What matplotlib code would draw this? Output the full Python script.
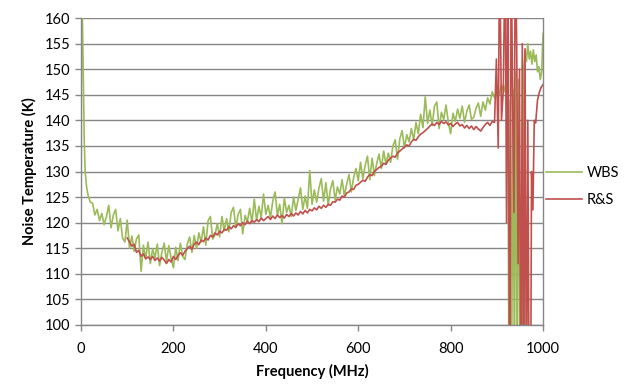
import matplotlib
matplotlib.use('Agg')
import matplotlib.pyplot as plt
import numpy as np

# WBS (green) - steep start near 0 MHz
wbs_head_f = [0, 1, 3, 5, 7, 9, 12]
wbs_head_t = [100, 170, 160, 148, 136, 130, 127]

# WBS main body, 15..895 MHz every 5 MHz
wbs_main_t = [
    125.5, 124.0, 123.8, 121.5, 122.6, 120.4, 121.8, 119.6, 121.2, 123.4,
    119.0, 121.5, 122.6, 118.4, 120.8, 117.0, 116.2, 120.5, 115.0, 117.4,
    114.4, 116.8, 117.6, 110.5, 115.6, 113.0, 116.2, 112.0, 114.9, 113.1,
    115.8, 111.6, 114.2, 116.0, 112.4, 115.5, 113.0, 111.2, 115.2, 112.6,
    116.0, 113.4, 112.8, 115.8, 117.2, 114.2, 117.5, 115.0, 118.0, 116.2,
    119.2, 115.6, 120.4, 121.2, 116.8, 117.6, 119.8, 117.2, 121.2, 118.4,
    120.8, 118.2, 122.0, 123.0, 119.0, 121.6, 122.6, 117.8, 121.4, 120.2,
    122.8, 120.0, 124.6, 120.4, 123.2, 121.0, 125.6, 121.6, 123.4, 121.0,
    124.2, 126.0, 121.4, 123.6, 119.8, 124.8, 122.0, 123.4, 121.2, 125.0,
    122.4, 124.6, 126.8, 122.6, 125.2, 122.8, 130.2, 123.6, 126.4, 124.0,
    126.8, 128.6, 124.2, 127.8, 123.4, 126.6, 128.2, 124.4, 127.0, 125.6,
    128.4, 125.2, 127.6, 129.4, 126.0, 128.8, 130.6, 128.2, 131.8, 128.6,
    131.2, 133.0, 128.4, 132.6, 129.2, 131.6, 133.4, 130.6, 134.0, 131.4,
    133.6, 131.8, 135.0, 136.2, 132.4, 136.4, 138.0, 134.6, 137.2, 135.8,
    138.4, 136.2, 139.6, 137.4, 141.2, 138.6, 144.6, 139.4, 142.0, 139.0,
    142.8, 143.6, 138.4, 141.6, 140.2, 143.0, 139.6, 137.4, 141.4, 139.8,
    142.2, 140.4, 142.8, 139.6, 141.8, 143.0, 140.2, 140.6, 142.4, 143.4,
    140.8, 143.6, 142.0, 144.4, 143.2, 145.6, 144.4,
]

# WBS tail, unstable region above 900 MHz
wbs_tail_f = [900, 905, 910, 915, 920, 924, 926, 929, 932, 935, 938, 941,
              944, 947, 950, 953, 955, 958, 961, 964, 967, 970, 973, 976,
              979, 982, 985, 988, 991, 994, 997, 1000]
wbs_tail_t = [146.0, 145.0, 147.0, 145.5, 147.5, 146.0, 90, 144, 90, 146,
              90, 149.5, 90, 148, 90, 106, 90, 150, 153.5, 151.5, 155, 152,
              153.5, 151, 153.8, 151.5, 152.8, 149.5, 150.5, 148, 149.5, 157]

# R&S (red) main body, 100..895 MHz every 5 MHz
rs_main_t = [
    117.0, 116.2, 115.4, 115.8, 114.2, 114.6, 113.4, 113.9, 112.9, 113.3,
    112.8, 113.4, 112.6, 113.1, 112.5, 113.2, 112.7, 112.0, 112.8, 112.3,
    113.4, 112.8, 113.6, 114.1, 113.6, 114.4, 114.9, 115.4, 114.8, 115.8,
    116.2, 115.7, 116.6, 116.3, 117.0, 116.6, 117.5, 117.2, 118.0, 117.6,
    118.3, 118.0, 118.7, 118.5, 119.2, 118.8, 119.4, 119.1, 119.8, 119.4,
    120.0, 119.6, 120.3, 119.8, 120.4, 120.1, 120.6, 120.2, 120.9, 120.4,
    120.8, 121.2, 120.6, 121.3, 120.8, 121.5, 121.0, 121.4, 120.9, 121.6,
    121.2, 121.8, 121.3, 121.9, 121.5, 122.2, 121.7, 122.4, 121.9, 122.6,
    122.3, 122.9, 122.5, 123.2, 122.8, 123.4, 123.0, 123.6, 123.4, 124.1,
    124.0, 124.6, 124.4, 125.2, 125.0, 125.8, 126.0, 126.6, 126.5, 127.3,
    127.5, 127.9, 128.3, 128.1, 128.9, 129.4, 129.2, 130.0, 130.4, 130.8,
    131.0, 131.6, 131.4, 132.2, 132.6, 133.0, 132.8, 133.6, 134.0, 134.4,
    134.8, 135.2, 135.0, 135.8, 136.3, 136.1, 136.8, 137.3, 137.6, 138.0,
    138.4, 138.9, 139.3, 139.0, 139.6, 139.2, 139.8, 139.4, 139.7, 139.1,
    139.4, 138.8, 139.3, 139.6, 138.9, 139.2, 138.5, 139.0, 138.4, 138.9,
    138.2, 138.8, 138.3, 137.9, 138.6, 139.2, 139.6, 139.0, 139.8, 139.6,
]

rs_tail_f = [899, 903, 906, 910, 914, 918, 921, 924, 926, 928, 931, 934,
             937, 940, 943, 946, 949, 952, 955, 958, 961, 964, 967, 970,
             973, 975, 978, 981, 984, 988, 992, 996, 1000]
rs_tail_t = [152, 134.6, 175, 140, 146, 175, 120, 175, 118, 80, 175, 145,
             122, 175, 154, 112, 150, 80, 155, 80, 154, 80, 140, 80,
             80, 130, 122.5, 140, 139.5, 144, 145.5, 146.5, 147]

wbs_f = wbs_head_f + list(np.arange(15, 900, 5)) + wbs_tail_f
wbs_t = wbs_head_t + wbs_main_t + wbs_tail_t
rs_f = list(np.arange(100, 900, 5)) + rs_tail_f
rs_t = rs_main_t + rs_tail_t

green = '#9BBB59'
red = '#C0504D'
grey = '#868686'

plt.rcParams['font.family'] = ['Lato', 'DejaVu Sans']

fig = plt.figure(figsize=(6.3, 3.85), dpi=100)
ax = fig.add_axes([0.1286, 0.156, 0.7334, 0.797])

ax.plot(wbs_f, wbs_t, color=green, lw=1.2, label='WBS')
ax.plot(rs_f, rs_t, color=red, lw=1.2, label='R&S')

ax.set_xlim(0, 1000)
ax.set_ylim(100, 160)
ax.set_xticks(range(0, 1001, 200))
ax.set_yticks(range(100, 161, 5))
ax.yaxis.grid(True, color=grey, lw=1)
ax.set_axisbelow(True)
for s in ax.spines.values():
    s.set_color(grey)
    s.set_linewidth(1)
ax.spines['top'].set_visible(False)
ax.tick_params(axis='both', colors=grey, labelcolor='black', labelsize=10.5,
               length=4, width=1)
ax.tick_params(axis='x', pad=8)

ax.set_xlabel('Frequency (MHz)', fontsize=10.5, fontweight='bold', labelpad=6)
ax.set_ylabel('Noise Temperature (K)', fontsize=10.5, fontweight='bold', labelpad=6)

fig.legend(loc='center left', bbox_to_anchor=(0.866, 0.515), frameon=False,
           fontsize=10.5, handlelength=2.5, handletextpad=0.3,
           labelspacing=0.9, borderpad=0, borderaxespad=0)

plt.savefig('out.png', dpi=100)
